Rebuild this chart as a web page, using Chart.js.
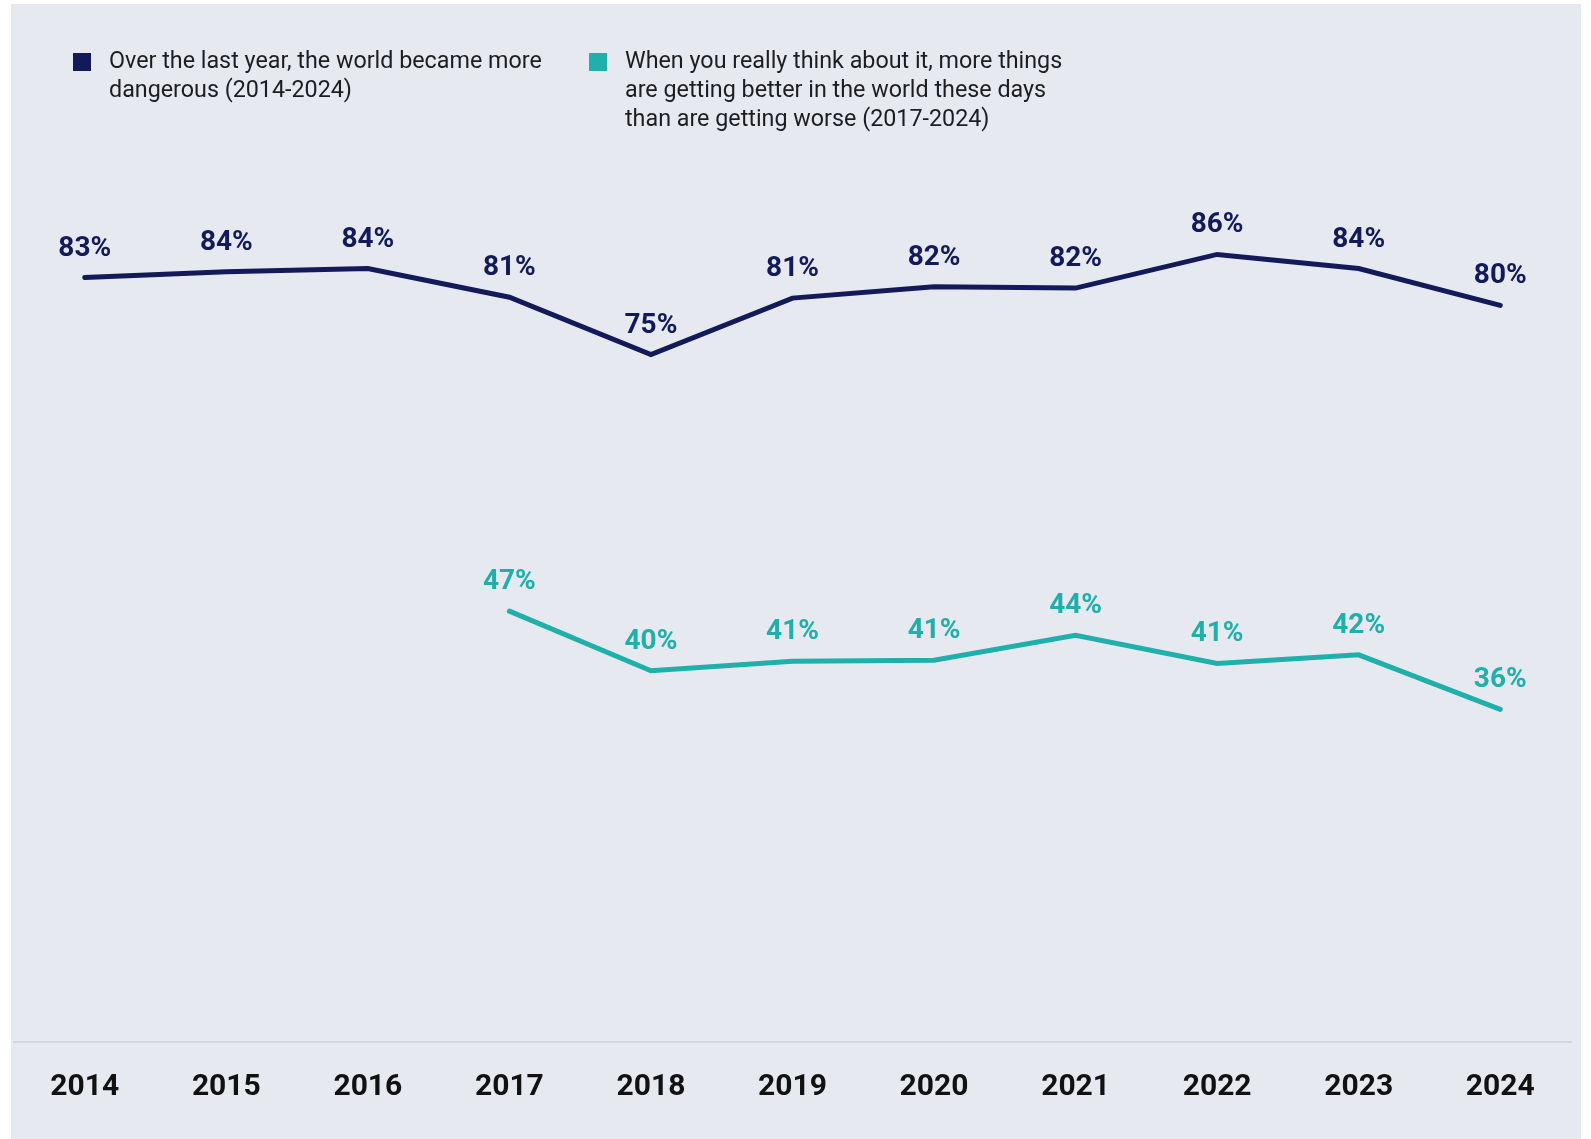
<!DOCTYPE html>
<html>
<head>
<meta charset="utf-8">
<script src="https://cdn.jsdelivr.net/npm/chart.js@4.4.1/dist/chart.umd.min.js"></script>
<style>
  html, body { margin: 0; padding: 0; background: #fff; }
  body { width: 1591px; height: 1139px; position: relative; overflow: hidden; font-family: Roboto, sans-serif; }
  #panel { position: absolute; left: 11px; top: 4px; width: 1570px; height: 1135px; background: #e6e9ef; }
  #wrap { position: absolute; left: 0; top: 0; width: 1591px; height: 1139px; }
  .item { position: absolute; top: 46px; }
  .box { position: absolute; left: 0; top: 7px; width: 18px; height: 18px; }
  .text { position: absolute; left: 36px; top: 0; font-size: 23.3px; line-height: 29px; color: #1d1d20; white-space: pre; }
</style>
</head>
<body>
<div id="panel"></div>
<div id="wrap"><canvas id="trendChart" width="1591" height="1139"></canvas></div>
<div id="legend"></div>
<script>
const years = ['2014', '2015', '2016', '2017', '2018', '2019', '2020', '2021', '2022', '2023', '2024'];
const dangerValues = [83.45, 84.1, 84.45, 81.3, 75.0, 81.2, 82.45, 82.3, 86.0, 84.45, 80.4];
const betterValues = [null, null, null, 46.8, 40.25, 41.3, 41.4, 44.15, 41.05, 42.0, 36.0];
const seriesNames = [
  'Over the last year, the world became more\ndangerous (2014-2024)',
  'When you really think about it, more things\nare getting better in the world these days\nthan are getting worse (2017-2024)'
];
const seriesColors = ['#131a5a', '#1fb0ab'];

// value labels above each point
const pointLabels = {
  id: 'pointLabels',
  afterDatasetsDraw(chart) {
    const ctx = chart.ctx;
    ctx.save();
    ctx.font = 'bold 28px Roboto';
    ctx.textAlign = 'center';
    ctx.textBaseline = 'alphabetic';
    chart.data.datasets.forEach((ds, i) => {
      const meta = chart.getDatasetMeta(i);
      ctx.fillStyle = ds.borderColor;
      meta.data.forEach((pt, j) => {
        const v = ds.data[j];
        if (v === null) return;
        ctx.fillText(Math.round(v) + '%', pt.x, pt.y - 22);
      });
    });
    ctx.restore();
  }
};

function buildLegend(chart) {
  const legend = document.getElementById('legend');
  const lefts = [73, 589];
  chart.data.datasets.forEach((ds, i) => {
    const item = document.createElement('div');
    item.className = 'item';
    item.style.left = lefts[i] + 'px';
    item.innerHTML = '<div class="box" style="background:' + ds.borderColor + '"></div>' +
      '<div class="text"></div>';
    item.querySelector('.text').textContent = ds.label;
    legend.appendChild(item);
  });
}

function drawTrendChart() {
  Chart.defaults.font.family = 'Roboto';
  const ctx = document.getElementById('trendChart').getContext('2d');
  const chart = new Chart(ctx, {
    type: 'line',
    data: {
      labels: years,
      datasets: [
        {
          label: seriesNames[0],
          data: dangerValues,
          borderColor: seriesColors[0],
          backgroundColor: seriesColors[0]
        },
        {
          label: seriesNames[1],
          data: betterValues,
          borderColor: seriesColors[1],
          backgroundColor: seriesColors[1]
        }
      ]
    },
    options: {
      responsive: false,
      animation: false,
      layout: { padding: { top: 127, left: 14, right: 20, bottom: 7 } },
      elements: {
        line: { borderWidth: 5, tension: 0, borderCapStyle: 'round', borderJoinStyle: 'miter' },
        point: { radius: 0, hoverRadius: 0 }
      },
      scales: {
        x: {
          offset: true,
          grid: { display: false, drawTicks: false },
          border: { display: true, color: '#d3d6dc', width: 2 },
          ticks: { color: '#111', padding: 27, font: { size: 30, weight: 'bold' } }
        },
        y: { display: false, min: -0.54, max: 100 }
      },
      plugins: {
        legend: { display: false },
        tooltip: { enabled: false }
      }
    },
    plugins: [pointLabels]
  });
  buildLegend(chart);
}

document.fonts.load('bold 30px Roboto').then(drawTrendChart, drawTrendChart);
</script>
</body>
</html>
